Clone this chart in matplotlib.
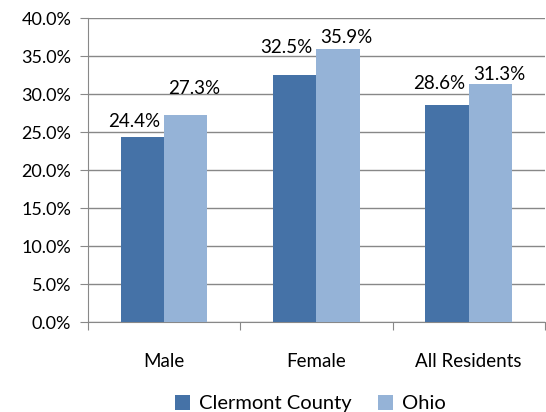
import matplotlib.pyplot as plt
import numpy as np

categories = ['Male', 'Female', 'All Residents']
clermont = [24.4, 32.5, 28.6]
ohio = [27.3, 35.9, 31.3]
series_names = ['Clermont County', 'Ohio']
yticks = [0, 5, 10, 15, 20, 25, 30, 35, 40]

# label lift above bar top (pixels), as placed in the original
lift_dark = [10, 22, 16]
lift_light = [21, 6, 4]

plt.rcParams['font.family'] = ['Lato', 'DejaVu Sans']

fig = plt.figure(figsize=(5.46, 4.12), dpi=100)
ax = fig.add_axes([0.161, 0.218, 0.837, 0.738])

x = np.arange(len(categories))
w = 0.285
c1, c2 = '#4572A7', '#95B3D7'
b1 = ax.bar(x - w / 2, clermont, w, color=c1, label=series_names[0], zorder=3)
b2 = ax.bar(x + w / 2, ohio, w, color=c2, label=series_names[1], zorder=3)

px = 0.72  # points per pixel at dpi 100
for i in range(len(categories)):
    ax.annotate(f'{clermont[i]:.1f}%', (x[i], clermont[i]),
                xytext=(-4 * px, lift_dark[i] * px), textcoords='offset points',
                ha='right', va='baseline', fontsize=13.5, zorder=4)
    ax.annotate(f'{ohio[i]:.1f}%', (x[i], ohio[i]),
                xytext=(4 * px, lift_light[i] * px), textcoords='offset points',
                ha='left', va='baseline', fontsize=13.5, zorder=4)

ax.set_ylim(0, 40)
ax.set_xlim(-0.5, 2.5)
ax.set_yticks(yticks)
ax.set_yticklabels([f'{t:.1f}%' for t in yticks], fontsize=13)
ax.yaxis.grid(True, color='#888888', linewidth=1)
ax.set_axisbelow(True)

ax.set_xticks([-0.5, 0.5, 1.5, 2.5])
ax.set_xticklabels([])
ax.set_xticks(x, minor=True)
ax.set_xticklabels(categories, minor=True, fontsize=13.5)
ax.tick_params(axis='x', which='minor', length=0, pad=22)
ax.tick_params(axis='x', which='major', length=6, color='#888888')
ax.tick_params(axis='y', length=6, color='#888888', pad=6)

for s in ['top', 'right']:
    ax.spines[s].set_visible(False)
for s in ['left', 'bottom']:
    ax.spines[s].set_color('#888888')

fig.legend(loc='lower center', bbox_to_anchor=(0.569, -0.045), ncol=2, frameon=False,
           fontsize=14.5, handlelength=0.75, handleheight=0.75, columnspacing=1.3,
           handletextpad=0.45)

plt.savefig('out.png', dpi=100)
